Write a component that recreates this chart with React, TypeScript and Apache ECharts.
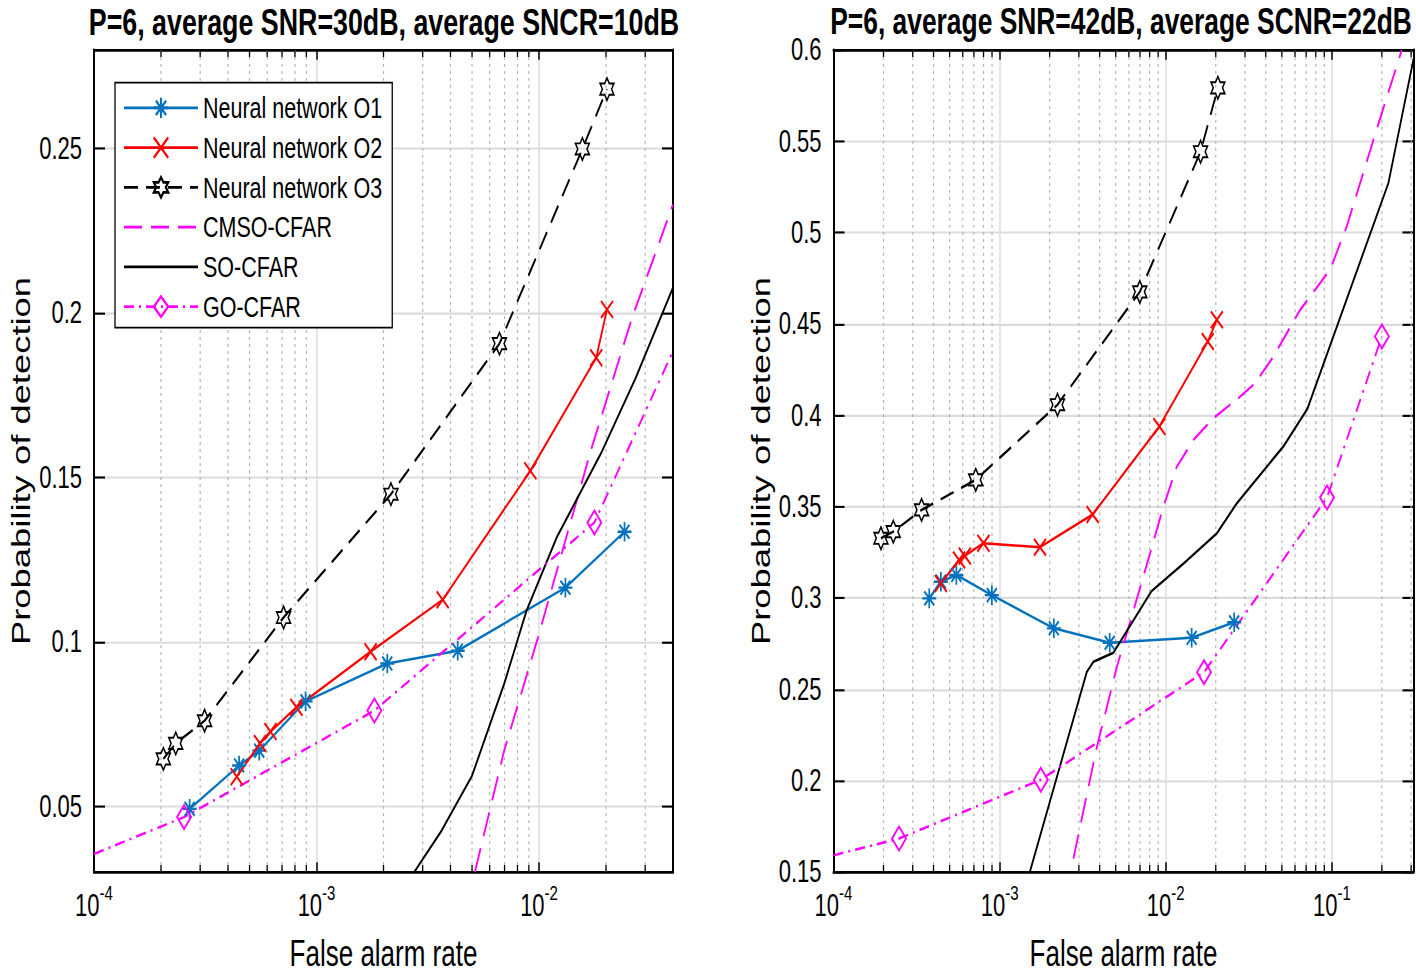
import React, { useEffect, useRef } from 'react';
import * as echarts from 'echarts';

// ---------- layout constants (chart is rendered unstretched, then scaled vertically) ----------
const PAGE_W = 1416;
const PAGE_H = 976;
const H = 697;
const SY = PAGE_H / H;
const FONT = '"Liberation Sans", Arial, Helvetica, sans-serif';

// ---------- texts ----------
const leftTitle = 'P=6, average SNR=30dB, average SNCR=10dB';
const rightTitle = 'P=6, average SNR=42dB, average SCNR=22dB';
const xName = 'False alarm rate';
const yName = 'Probability of detection';
const seriesNames = ['Neural network O1', 'Neural network O2', 'Neural network O3', 'CMSO-CFAR', 'SO-CFAR', 'GO-CFAR'];

// ---------- axes ----------
const leftXRange = [1e-4, 0.04];
const leftYRange = [0.03, 0.28];
const leftYTicks = [0.05, 0.1, 0.15, 0.2, 0.25];
const rightXRange = [1e-4, 0.31];
const rightYRange = [0.15, 0.6];
const rightYTicks = [0.15, 0.2, 0.25, 0.3, 0.35, 0.4, 0.45, 0.5, 0.55, 0.6];
const decades = [1e-4, 1e-3, 1e-2, 1e-1];
const minorMultipliers = [2, 3, 4, 5, 6, 7, 8, 9];

// ---------- left panel data ----------
const leftO1X = [2.69e-4, 4.49e-4, 5.53e-4, 8.93e-4, 2.08e-3, 4.31e-3, 0.01314, 0.02422];
const leftO1Y = [0.0492, 0.0624, 0.0669, 0.0819, 0.0934, 0.0973, 0.1165, 0.1335];
const leftO2X = [4.38e-4, 5.57e-4, 6.21e-4, 8.12e-4, 1.75e-3, 3.69e-3, 9.14e-3, 0.01807, 0.0202];
const leftO2Y = [0.059, 0.0691, 0.0727, 0.0801, 0.097, 0.1128, 0.152, 0.1864, 0.2011];
const leftO3X = [2.05e-4, 2.33e-4, 3.14e-4, 7.11e-4, 2.16e-3, 6.64e-3, 0.01566, 0.0202];
const leftO3Y = [0.0644, 0.0691, 0.076, 0.1074, 0.1449, 0.1907, 0.2499, 0.2681];
const leftCmsoX = [5.15e-3, 6.97e-3, 9.89e-3, 0.01706, 0.0262, 0.04];
const leftCmsoY = [0.03, 0.0669, 0.1013, 0.158, 0.1986, 0.233];
const leftSoX = [2.75e-3, 3.65e-3, 5.0e-3, 6.97e-3, 8.79e-3, 0.012, 0.0192, 0.0272, 0.04];
const leftSoY = [0.03, 0.0426, 0.0593, 0.0872, 0.1095, 0.1317, 0.158, 0.1803, 0.2077];
const leftGoX = [1e-4, 2.54e-4, 1.82e-3, 0.01774, 0.04];
const leftGoY = [0.0355, 0.0467, 0.0791, 0.1363, 0.1884];
const leftGoMarker = [false, true, true, true, false];

// ---------- right panel data ----------
const rightO1X = [3.77e-4, 4.43e-4, 5.49e-4, 8.98e-4, 2.12e-3, 4.6e-3, 0.01432, 0.02581];
const rightO1Y = [0.2998, 0.3089, 0.3126, 0.3016, 0.2834, 0.2755, 0.2782, 0.2867];
const rightO2X = [4.43e-4, 5.7e-4, 6.17e-4, 7.99e-4, 1.75e-3, 3.63e-3, 9.15e-3, 0.0179, 0.0203];
const rightO2Y = [0.308, 0.3208, 0.323, 0.33, 0.3278, 0.3457, 0.3939, 0.4404, 0.4523];
const rightO3X = [1.93e-4, 2.29e-4, 3.39e-4, 7.18e-4, 2.23e-3, 6.98e-3, 0.0162, 0.0206];
const rightO3Y = [0.3327, 0.3363, 0.3482, 0.3647, 0.4058, 0.4676, 0.5443, 0.5793];
const rightCmsoX = [2.78e-3, 3.85e-3, 5.08e-3, 6.4e-3, 8.05e-3, 9.68e-3, 0.01167, 0.0147, 0.0194, 0.0281, 0.0345, 0.0445, 0.0645, 0.0975, 0.123, 0.186, 0.2635];
const rightCmsoY = [0.1573, 0.2185, 0.2623, 0.2934, 0.3245, 0.35, 0.372, 0.3866, 0.3985, 0.4103, 0.4176, 0.4322, 0.4578, 0.4797, 0.5035, 0.5565, 0.6];
const rightSoX = [1.52e-3, 3.35e-3, 3.67e-3, 4.84e-3, 8.2e-3, 0.0134, 0.0203, 0.0268, 0.051, 0.0712, 0.219, 0.31];
const rightSoY = [0.15, 0.2596, 0.2651, 0.27, 0.3037, 0.3205, 0.3354, 0.3519, 0.3829, 0.4035, 0.5272, 0.595];
const rightGoX = [1e-4, 2.48e-4, 1.77e-3, 0.017, 0.0935, 0.2];
const rightGoY = [0.1591, 0.1683, 0.2005, 0.2594, 0.355, 0.4432];
const rightGoMarker = [false, true, true, true, true, true];

// ---------- styles ----------
const BLUE = '#0072BD';
const RED = '#FF0000';
const BLACK = '#000000';
const MAGENTA = '#FF00FF';
const ASTERISK = 'path://M0,-1L0,1M-1,0L1,0M-0.71,-0.71L0.71,0.71M-0.71,0.71L0.71,-0.71';
const CROSS = 'path://M-1,-1L1,1M-1,1L1,-1';
const HEXAGRAM =
  'path://M0,-1L0.2887,-0.5L0.866,-0.5L0.577,0L0.866,0.5L0.2887,0.5L0,1L-0.2887,0.5L-0.866,0.5L-0.577,0L-0.866,-0.5L-0.2887,-0.5Z';

const GRID_TOP = 50 / SY;
const GRID_H = 872 / SY - GRID_TOP;

function isDecade(v: number) {
  const l = Math.log10(v);
  return Math.abs(l - Math.round(l)) < 1e-6;
}

function logLabel(v: number) {
  if (!isDecade(v)) return '';
  return '{b|10}{s|' + Math.round(Math.log10(v)) + '}';
}

function yLabel(ticks: number[]) {
  return (v: number) => (ticks.some((t) => Math.abs(t - v) < 1e-9) ? String(+v.toFixed(2)) : '');
}

function minorValues(range: number[]) {
  const out: number[] = [];
  decades.forEach((d) => minorMultipliers.forEach((m) => {
    const v = d * m;
    if (v > range[0] && v < range[1] * 0.999) out.push(v);
  }));
  return out;
}

const axisLineStyle = { show: true, onZero: false, lineStyle: { color: BLACK, width: 2 } };
const nameStyle = { fontSize: 26, fontFamily: FONT, color: BLACK, lineHeight: 20 };

function xAxes(gi: number, range: number[]) {
  return [
    {
      type: 'log', logBase: 10, gridIndex: gi, min: range[0], max: range[1], position: 'bottom',
      axisLine: axisLineStyle,
      axisTick: { show: true, inside: true, length: 7, lineStyle: { color: BLACK, width: 1.5 } },
      axisLabel: {
        show: true, margin: 7, formatter: logLabel,
        rich: {
          b: { fontSize: 22, fontFamily: FONT, color: BLACK, lineHeight: 28, verticalAlign: 'bottom' },
          s: { fontSize: 15, fontFamily: FONT, color: BLACK, lineHeight: 15, verticalAlign: 'top' },
        },
      },
      splitLine: { show: true, lineStyle: { color: '#dcdcdc', width: 1.5 } },
      minorTick: { show: false }, minorSplitLine: { show: false },
      name: xName, nameLocation: 'middle', nameGap: 48, nameTextStyle: nameStyle,
    },
    {
      type: 'log', logBase: 10, gridIndex: gi, min: range[0], max: range[1], position: 'top',
      axisLine: axisLineStyle,
      axisTick: { show: true, inside: true, length: 7, lineStyle: { color: BLACK, width: 1.5 } },
      axisLabel: { show: false }, splitLine: { show: false },
    },
  ];
}

function yAxes(gi: number, range: number[], ticks: number[], interval?: number) {
  const base: any = { type: 'value', gridIndex: gi, min: range[0], max: range[1] };
  if (interval) base.interval = interval;
  return [
    {
      ...base, position: 'left',
      axisLine: axisLineStyle,
      axisTick: { show: true, inside: true, length: 11, customValues: ticks, lineStyle: { color: BLACK, width: 1.5 } },
      axisLabel: { show: true, customValues: ticks, formatter: yLabel(ticks), fontSize: 22, fontFamily: FONT, color: BLACK, margin: 12 },
      splitLine: { show: true, lineStyle: { color: '#dcdcdc', width: 1.5 } },
      name: yName, nameLocation: 'middle', nameGap: 60, nameTextStyle: { ...nameStyle, lineHeight: 26 },
    },
    {
      ...base, position: 'right',
      axisLine: axisLineStyle,
      axisTick: { show: true, inside: true, length: 11, customValues: ticks, lineStyle: { color: BLACK, width: 1.5 } },
      axisLabel: { show: false }, splitLine: { show: false },
    },
  ];
}

function minorSeries(gi: number, xRange: number[], yRange: number[]) {
  return {
    type: 'custom', xAxisIndex: gi * 2, yAxisIndex: gi * 2, silent: true, z: 1,
    data: minorValues(xRange).map((v) => [v, yRange[0]]),
    encode: { x: 0, y: 1 },
    renderItem: (_p: any, api: any) => {
      const x = api.value(0);
      const b = api.coord([x, yRange[0]]);
      const t = api.coord([x, yRange[1]]);
      return {
        type: 'group',
        children: [
          { type: 'line', shape: { x1: b[0], y1: b[1], x2: t[0], y2: t[1] }, style: { stroke: '#b4b4b4', lineWidth: 1.2, lineDash: [2, 3] } },
          { type: 'line', shape: { x1: b[0], y1: b[1], x2: b[0], y2: b[1] - 5 }, style: { stroke: BLACK, lineWidth: 1.3 } },
          { type: 'line', shape: { x1: t[0], y1: t[1], x2: t[0], y2: t[1] + 5 }, style: { stroke: BLACK, lineWidth: 1.3 } },
        ],
      };
    },
  };
}

type Cfg = { color: string; dash?: any; symbol: string; size: any; show: boolean; bw: number };

const cfgs: Cfg[] = [
  { color: BLUE, symbol: ASTERISK, size: 14, show: true, bw: 1.7 },
  { color: RED, symbol: CROSS, size: 12, show: true, bw: 1.7 },
  { color: BLACK, dash: [14, 8], symbol: HEXAGRAM, size: 16, show: true, bw: 1.4 },
  { color: MAGENTA, dash: [18, 9], symbol: 'circle', size: 1, show: false, bw: 0 },
  { color: BLACK, symbol: 'circle', size: 1, show: false, bw: 0 },
  { color: MAGENTA, dash: [10, 5, 2, 5], symbol: 'diamond', size: [14, 17], show: true, bw: 1.7 },
];

function lineSeries(idx: number, gi: number, xs: number[], ys: number[], markers?: boolean[]) {
  const c = cfgs[idx];
  return {
    type: 'line', name: seriesNames[idx], xAxisIndex: gi * 2, yAxisIndex: gi * 2,
    data: xs.map((x, i) => (markers && !markers[i] ? { value: [x, ys[i]], symbol: 'none' } : [x, ys[i]])),
    symbol: c.symbol, symbolSize: c.size, symbolKeepAspect: true, showSymbol: c.show,
    lineStyle: { color: c.color, width: 1.8, type: c.dash || 'solid' },
    itemStyle: { color: 'rgba(0,0,0,0)', borderColor: c.color, borderWidth: c.bw },
    emphasis: { disabled: true }, silent: true, z: 3, clip: true,
  };
}

const titleStyle = (size: number) => ({ fontSize: size, fontWeight: 'bold', fontFamily: FONT, color: BLACK, lineHeight: 24 });

function buildOption(): any {
  return {
    animation: false,
    backgroundColor: '#ffffff',
    title: [
      { text: leftTitle, left: 384, top: 3.5, textAlign: 'center', padding: 0, textStyle: titleStyle(26.8) },
      { text: rightTitle, left: 1121, top: 3.5, textAlign: 'center', padding: 0, textStyle: titleStyle(26.4) },
    ],
    grid: [
      { left: 94, top: GRID_TOP, width: 579, height: GRID_H, containLabel: false, outerBoundsMode: 'none' },
      { left: 833.5, top: GRID_TOP, width: 580, height: GRID_H, containLabel: false, outerBoundsMode: 'none' },
    ],
    xAxis: [...xAxes(0, leftXRange), ...xAxes(1, rightXRange)],
    yAxis: [...yAxes(0, leftYRange, leftYTicks), ...yAxes(1, rightYRange, rightYTicks, 0.05)],
    legend: {
      data: seriesNames, orient: 'vertical', left: 115, top: 59,
      padding: [7, 10, 4, 8], itemWidth: 74, itemHeight: 18, itemGap: 6.4,
      backgroundColor: '#ffffff', borderColor: BLACK, borderWidth: 1.3, borderRadius: 0,
      textStyle: { fontSize: 21.5, fontFamily: FONT, color: BLACK, lineHeight: 22 },
      selectedMode: false, z: 10,
    },
    series: [
      minorSeries(0, leftXRange, leftYRange),
      minorSeries(1, rightXRange, rightYRange),
      lineSeries(0, 0, leftO1X, leftO1Y),
      lineSeries(1, 0, leftO2X, leftO2Y),
      lineSeries(2, 0, leftO3X, leftO3Y),
      lineSeries(3, 0, leftCmsoX, leftCmsoY),
      lineSeries(4, 0, leftSoX, leftSoY),
      lineSeries(5, 0, leftGoX, leftGoY, leftGoMarker),
      lineSeries(0, 1, rightO1X, rightO1Y),
      lineSeries(1, 1, rightO2X, rightO2Y),
      lineSeries(2, 1, rightO3X, rightO3Y),
      lineSeries(3, 1, rightCmsoX, rightCmsoY),
      lineSeries(4, 1, rightSoX, rightSoY),
      lineSeries(5, 1, rightGoX, rightGoY, rightGoMarker),
    ],
  };
}

export default function App() {
  const ref = useRef<HTMLDivElement>(null);
  useEffect(() => {
    const chart = echarts.init(ref.current as HTMLDivElement, null, { renderer: 'svg' });
    chart.setOption(buildOption());
    return () => chart.dispose();
  }, []);
  return (
    <div style={{ position: 'fixed', left: 0, top: 0, width: PAGE_W, height: PAGE_H, overflow: 'hidden', background: '#fff' }}>
      <div ref={ref} style={{ width: PAGE_W, height: H, transform: `scaleY(${SY})`, transformOrigin: '0 0' }} />
    </div>
  );
}
